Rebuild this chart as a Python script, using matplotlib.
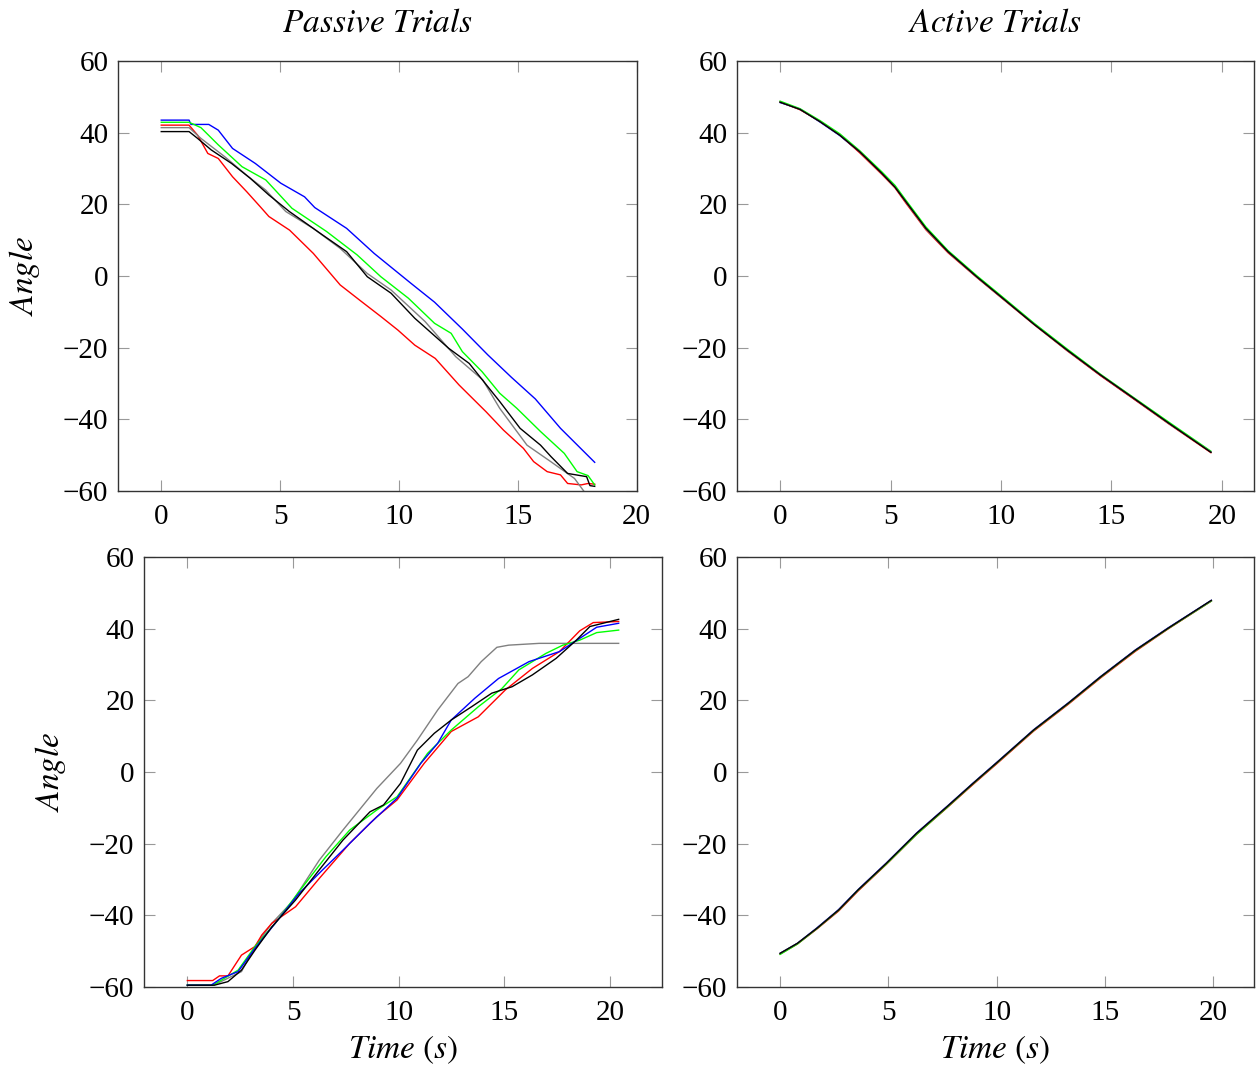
import matplotlib
matplotlib.use('Agg')
import matplotlib.pyplot as plt

# ---------------- data ----------------
# Passive, top-left
pt_blue_x = [0, 1.17, 1.25, 2.0, 2.4, 3.0, 3.96, 5.03, 6.03, 6.46, 7.8, 8.96, 10.5, 11.5, 12.67, 13.74, 14.74, 15.74, 16.8, 18.24]
pt_blue_y = [43.5, 43.5, 42.3, 42.3, 40.7, 35.6, 31.4, 25.9, 22.1, 19.1, 13.3, 6.3, -2.0, -7.3, -14.8, -22.0, -28.3, -34.3, -42.5, -52.0]
pt_green_x = [0, 1.17, 1.67, 2.4, 3.4, 4.4, 5.5, 6.96, 8.24, 9.24, 10.4, 11.5, 12.2, 12.67, 13.5, 14.24, 14.96, 15.96, 16.96, 17.5, 17.96, 18.24]
pt_green_y = [42.9, 42.9, 41.4, 36.6, 30.5, 26.8, 18.9, 12.4, 5.9, -0.2, -6.2, -13.2, -16.0, -21.1, -26.7, -32.7, -36.9, -43.4, -49.5, -54.6, -55.7, -58.3]
pt_red_x = [0, 1.17, 1.53, 1.96, 2.4, 3.0, 3.6, 4.17, 4.53, 5.4, 6.4, 7.53, 8.4, 9.24, 9.96, 10.67, 11.53, 12.53, 13.67, 14.4, 15.24, 15.67, 16.24, 16.8, 17.1, 17.67, 17.96, 18.24]
pt_red_y = [42.1, 42.1, 39.3, 34.2, 32.8, 27.7, 23.5, 19.3, 16.6, 12.8, 6.3, -2.5, -7.0, -11.3, -15.1, -19.3, -23.0, -30.4, -37.9, -43.0, -48.1, -51.8, -54.6, -55.5, -57.9, -58.3, -57.9, -58.1]
pt_black_x = [0, 1.17, 1.53, 2.1, 2.96, 3.74, 4.53, 5.39, 6.8, 7.8, 8.67, 9.67, 10.67, 12.1, 12.96, 14.24, 15.1, 15.96, 16.4, 17.1, 17.9, 18.04, 18.24]
pt_black_y = [40.3, 40.3, 38.4, 35.2, 31.4, 27.3, 22.6, 18.0, 11.4, 6.8, -0.2, -4.8, -11.8, -20.2, -24.4, -35.0, -42.5, -47.2, -50.4, -55.1, -56.0, -58.5, -58.7]
pt_gray_x = [0, 1.17, 1.67, 2.67, 3.67, 4.39, 5.24, 6.39, 7.53, 8.67, 9.67, 11.1, 12.39, 13.53, 14.24, 15.39, 16.39, 17.39, 17.8, 18.24]
pt_gray_y = [41.4, 41.4, 38.4, 33.3, 27.7, 24.0, 18.0, 13.3, 7.7, 0.7, -3.9, -12.7, -22.5, -29.0, -36.9, -47.2, -51.8, -56.5, -60.2, -64.0]

# Passive, bottom-left
pb_gray_x = [0, 1.28, 2.56, 3.2, 4.0, 4.96, 6.24, 7.36, 8.96, 10.08, 10.88, 11.84, 12.8, 13.28, 13.9, 14.64, 15.2, 16.64, 20.4]
pb_gray_y = [-59.4, -59.4, -55.7, -48.7, -42.2, -36.2, -24.6, -16.2, -4.6, 2.4, 8.9, 17.3, 24.7, 26.6, 30.8, 34.8, 35.4, 35.9, 35.9]
pb_black_x = [0, 1.28, 1.92, 2.56, 3.2, 4.0, 5.12, 6.24, 7.36, 8.64, 9.28, 10.08, 10.88, 11.68, 12.48, 13.44, 14.4, 15.36, 16.32, 17.44, 18.4, 19.04, 20.4]
pb_black_y = [-59.5, -59.5, -58.5, -55.3, -49.7, -43.2, -35.7, -27.3, -19.0, -11.1, -9.2, -3.2, 6.1, 10.8, 14.5, 18.2, 22.0, 23.8, 27.1, 31.7, 36.8, 40.6, 42.6]
pb_blue_x = [0, 1.12, 1.6, 2.4, 3.2, 4.16, 5.28, 6.4, 7.36, 8.64, 9.92, 11.04, 11.84, 12.48, 13.6, 14.72, 16.16, 17.6, 18.56, 19.36, 20.4]
pb_blue_y = [-59.5, -59.5, -57.6, -55.7, -49.2, -42.2, -33.9, -27.3, -21.8, -14.3, -7.3, 2.4, 8.0, 14.5, 20.6, 26.1, 30.8, 33.6, 37.3, 40.4, 41.5]
pb_green_x = [0, 1.2, 2.4, 3.2, 4.16, 5.28, 6.56, 7.68, 8.96, 9.92, 11.36, 12.48, 13.76, 14.88, 15.68, 16.96, 17.76, 18.56, 19.36, 20.4]
pb_green_y = [-59.5, -59.5, -55.3, -48.7, -42.2, -33.4, -23.6, -16.2, -10.6, -6.9, 5.2, 11.7, 18.2, 23.3, 28.5, 33.1, 35.4, 36.8, 38.9, 39.6]
pb_red_x = [0, 1.2, 1.52, 1.92, 2.56, 3.2, 3.52, 4.0, 5.12, 6.24, 7.68, 8.96, 9.92, 11.2, 12.48, 13.76, 15.04, 16.32, 17.6, 18.56, 19.2, 20.4]
pb_red_y = [-58.2, -58.2, -56.9, -56.9, -51.1, -48.7, -45.5, -42.2, -37.6, -29.7, -19.9, -12.5, -7.8, 2.4, 11.3, 15.4, 22.9, 28.9, 33.6, 39.4, 41.7, 42.0]

# Active, top-right
at_x = [0, 0.9, 1.8, 2.7, 3.6, 4.6, 5.2, 5.7, 6.6, 7.6, 8.9, 10.0, 11.5, 13.0, 14.5, 16.0, 17.6, 19.5]
at_blue = [48.4, 46.6, 43.0, 39.2, 34.6, 28.8, 24.9, 20.6, 13.2, 6.9, -0.2, -5.8, -13.4, -20.7, -27.7, -34.2, -41.1, -49.1]
at_red = [48.6, 46.4, 43.2, 39.4, 34.4, 28.4, 24.6, 20.3, 12.9, 6.5, -0.4, -6.0, -13.6, -20.9, -27.8, -34.3, -41.3, -49.3]
at_green = [48.8, 46.7, 43.4, 39.7, 35.0, 29.1, 25.3, 21.1, 13.7, 7.1, 0.1, -5.5, -13.2, -20.4, -27.4, -33.9, -40.8, -48.9]
at_gray = [48.5, 46.5, 43.1, 39.3, 34.7, 28.6, 24.8, 20.6, 13.1, 6.7, -0.3, -5.9, -13.5, -20.8, -27.6, -34.1, -41.2, -49.1]
at_black = [48.5, 46.5, 43.1, 39.3, 34.7, 28.7, 24.8, 20.7, 13.3, 6.8, -0.2, -5.8, -13.5, -20.7, -27.6, -34.1, -41.1, -49.2]

# Active, bottom-right
ab_x = [0, 0.8, 1.7, 2.7, 3.6, 4.9, 6.3, 7.7, 8.9, 10.0, 11.7, 13.3, 14.8, 16.4, 17.9, 19.9]
ab_blue = [-50.6, -47.8, -43.5, -38.4, -32.8, -25.4, -17.0, -9.6, -3.1, 2.7, 11.8, 19.3, 26.7, 34.1, 40.2, 47.9]
ab_red = [-50.8, -48.0, -43.8, -38.8, -33.2, -25.8, -17.4, -10.0, -3.5, 2.3, 11.4, 18.9, 26.3, 33.7, 39.9, 47.7]
ab_green = [-50.9, -48.0, -43.7, -38.6, -33.0, -25.7, -17.4, -9.9, -3.3, 2.5, 11.6, 19.1, 26.5, 33.9, 40.0, 47.7]
ab_gray = [-50.6, -47.8, -43.6, -38.5, -32.9, -25.5, -17.1, -9.7, -3.2, 2.6, 11.7, 19.2, 26.6, 34.0, 40.1, 47.8]
ab_black = [-50.6, -47.8, -43.6, -38.5, -32.9, -25.5, -17.1, -9.7, -3.2, 2.6, 11.7, 19.2, 26.6, 34.0, 40.1, 47.9]

xticks = [0, 5, 10, 15, 20]
yticks = [-60, -40, -20, 0, 20, 40, 60]
title_left = r'$Passive\ Trials$'
title_right = r'$Active\ Trials$'
xlabel = r'$Time\ (s)$'
ylabel = r'$Angle$'

# ---------------- style ----------------
plt.rcParams['font.family'] = ['Liberation Serif', 'DejaVu Serif']
plt.rcParams['mathtext.fontset'] = 'stix'

W, H = 1259, 1068
fig = plt.figure(figsize=(W / 100, H / 100), dpi=100)


def make_ax(l, r, t, b):
    return fig.add_axes([l / W, 1 - b / H, (r - l) / W, (b - t) / H])


ax_tl = make_ax(118, 637, 61, 491)
ax_tr = make_ax(737, 1254, 61, 491)
ax_bl = make_ax(144, 662, 557, 987)
ax_br = make_ax(737, 1254, 557, 987)

C = {'blue': '#0000ff', 'red': '#ff0000', 'green': '#00ff00', 'gray': '#808080', 'black': '#000000'}
LW = 1.0
TICK_FS = 21
LABEL_FS = 24

for ax in (ax_tl, ax_tr, ax_bl, ax_br):
    ax.set_ylim(-60, 60)
    ax.set_xticks(xticks)
    ax.set_yticks(yticks)
    ax.tick_params(direction='in', top=True, right=True, length=8, width=0.8,
                   color='#999999', labelsize=TICK_FS, labelcolor='black')
    ax.tick_params(axis='x', pad=9)
    ax.tick_params(axis='y', pad=7)
    for s in ax.spines.values():
        s.set_color('#333333')
        s.set_linewidth(1.0)

# top-left
ax_tl.plot(pt_blue_x, pt_blue_y, color=C['blue'], lw=LW)
ax_tl.plot(pt_red_x, pt_red_y, color=C['red'], lw=LW)
ax_tl.plot(pt_green_x, pt_green_y, color=C['green'], lw=LW)
ax_tl.plot(pt_gray_x, pt_gray_y, color=C['gray'], lw=LW)
ax_tl.plot(pt_black_x, pt_black_y, color=C['black'], lw=LW)
ax_tl.set_xlim(-1.82, 20.02)

# bottom-left
ax_bl.plot(pb_gray_x, pb_gray_y, color=C['gray'], lw=LW)
ax_bl.plot(pb_red_x, pb_red_y, color=C['red'], lw=LW)
ax_bl.plot(pb_green_x, pb_green_y, color=C['green'], lw=LW)
ax_bl.plot(pb_blue_x, pb_blue_y, color=C['blue'], lw=LW)
ax_bl.plot(pb_black_x, pb_black_y, color=C['black'], lw=LW)
ax_bl.set_xlim(-2.05, 22.45)

# top-right
for y, c in ((at_blue, 'blue'), (at_red, 'red'), (at_green, 'green'), (at_gray, 'gray'), (at_black, 'black')):
    ax_tr.plot(at_x, y, color=C[c], lw=LW)
ax_tr.set_xlim(-1.95, 21.45)

# bottom-right
for y, c in ((ab_blue, 'blue'), (ab_red, 'red'), (ab_green, 'green'), (ab_gray, 'gray'), (ab_black, 'black')):
    ax_br.plot(ab_x, y, color=C[c], lw=LW)
ax_br.set_xlim(-1.99, 21.87)

# titles
ax_tl.text(0.5, 1 + 38 / 430, title_left, transform=ax_tl.transAxes,
           ha='center', va='center', fontsize=LABEL_FS)
ax_tr.text(0.5, 1 + 38 / 430, title_right, transform=ax_tr.transAxes,
           ha='center', va='center', fontsize=LABEL_FS)

# y labels
for ax, xc in ((ax_tl, (25 - 118) / 519), (ax_bl, (50 - 144) / 518)):
    ax.set_ylabel(ylabel, fontsize=LABEL_FS)
    ax.yaxis.set_label_coords(xc, 0.5)
    ax.yaxis.label.set_va('center')

# x labels
for ax in (ax_bl, ax_br):
    ax.set_xlabel(xlabel, fontsize=LABEL_FS)
    ax.xaxis.set_label_coords(0.5, -63 / 430)
    ax.xaxis.label.set_va('center')

fig.savefig('out.png', dpi=100)
